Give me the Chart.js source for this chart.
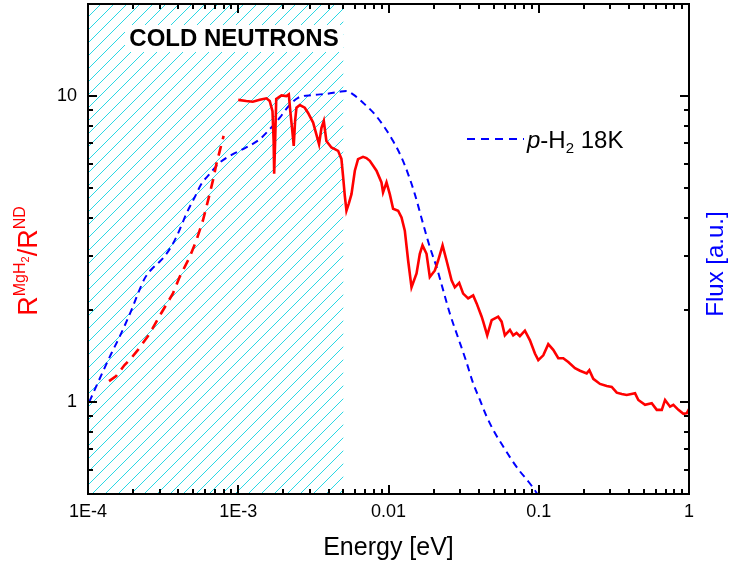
<!DOCTYPE html>
<html>
<head>
<meta charset="utf-8">
<script src="https://cdn.jsdelivr.net/npm/chart.js@4.4.0/dist/chart.umd.min.js"></script>
<style>
  html, body { margin: 0; padding: 0; background: #fff; }
  #wrap { width: 729px; height: 572px; }
</style>
</head>
<body>
<div id="wrap"><canvas id="myChart" width="729" height="572"></canvas></div>
<script>
// R(MgH2)/R(ND) measured, energies in eV
var ratioE = [1.00e-3, 1.13e-3, 1.25e-3, 1.39e-3, 1.54e-3, 1.62e-3, 1.69e-3, 1.72e-3, 1.734e-3, 1.76e-3,
  1.79e-3, 1.94e-3, 2.09e-3, 2.17e-3, 2.22e-3, 2.29e-3, 2.34e-3, 2.39e-3, 2.44e-3, 2.57e-3,
  2.77e-3, 2.91e-3, 3.15e-3, 3.31e-3, 3.45e-3, 3.58e-3, 3.71e-3, 3.86e-3, 4.17e-3, 4.39e-3,
  4.62e-3, 4.86e-3, 4.98e-3, 5.12e-3, 5.25e-3, 5.44e-3, 5.67e-3, 5.97e-3, 6.27e-3, 6.77e-3,
  7.13e-3, 7.51e-3, 8.32e-3, 8.98e-3, 9.20e-3, 9.70e-3, 1.02e-2, 1.073e-2, 1.159e-2, 1.221e-2,
  1.284e-2, 1.351e-2, 1.423e-2, 1.537e-2, 1.616e-2, 1.684e-2, 1.791e-2, 1.884e-2, 2.035e-2, 2.14e-2,
  2.29e-2, 2.434e-2, 2.628e-2, 2.764e-2, 2.954e-2, 3.14e-2, 3.39e-2, 3.66e-2, 3.86e-2, 4.17e-2,
  4.27e-2, 4.54e-2, 4.86e-2, 5.37e-2, 5.66e-2, 5.95e-2, 6.43e-2, 6.76e-2, 7.12e-2, 7.49e-2,
  8.09e-2, 8.74e-2, 9.43e-2, 9.93e-2, 0.1072, 0.1157, 0.1249, 0.1349, 0.1456, 0.1572,
  0.1743, 0.1882, 0.2085, 0.2171, 0.2307, 0.2557, 0.2834, 0.306, 0.3304, 0.3567,
  0.385, 0.4375, 0.460, 0.510, 0.565, 0.610, 0.659, 0.693, 0.748, 0.787,
  0.850, 0.918, 0.967, 1.0];
var ratioV = [9.72, 9.63, 9.58, 9.72, 9.83, 9.63, 8.93, 7.13, 5.57, 7.13,
  9.78, 10.05, 10.0, 10.13, 8.93, 7.69, 6.87, 8.29, 9.16, 9.35,
  9.16, 8.82, 8.19, 7.50, 6.96, 7.88, 8.29, 7.13, 6.79, 6.71,
  6.62, 6.23, 5.49, 4.72, 4.22, 4.45, 4.78, 5.70, 6.22, 6.33,
  6.27, 6.14, 5.70, 5.22, 4.84, 5.22, 4.78, 4.28, 4.22, 4.01,
  3.63, 2.90, 2.37, 2.63, 3.05, 3.25, 3.05, 2.56, 2.69, 2.90,
  3.25, 2.90, 2.50, 2.37, 2.45, 2.26, 2.18, 2.23, 2.10, 1.90,
  1.83, 1.65, 1.85, 1.90, 1.83, 1.65, 1.72, 1.65, 1.68, 1.64,
  1.71, 1.59, 1.44, 1.37, 1.42, 1.545, 1.48, 1.39, 1.39, 1.35,
  1.29, 1.265, 1.24, 1.27, 1.19, 1.145, 1.127, 1.12, 1.072, 1.062,
  1.054, 1.067, 1.015, 0.978, 0.99, 0.942, 0.942, 1.015, 0.965, 0.978,
  0.942, 0.914, 0.919, 0.947];

// low energy part (dashed red)
var ratioLowE = [1.38e-4, 1.54e-4, 1.75e-4, 1.89e-4, 2.15e-4, 2.57e-4, 3.07e-4, 3.67e-4, 4.07e-4,
  4.74e-4, 5.26e-4, 5.82e-4, 6.29e-4, 6.78e-4, 7.15e-4, 7.99e-4];
var ratioLowV = [1.17, 1.215, 1.32, 1.37, 1.48, 1.67, 1.95, 2.26, 2.56,
  2.97, 3.37, 3.92, 4.55, 5.29, 5.99, 7.41];

// p-H2 18K flux spectrum
var fluxE = [1.02e-4, 1.13e-4, 1.255e-4, 1.43e-4, 1.62e-4, 1.94e-4, 2.15e-4, 2.38e-4, 2.64e-4, 2.92e-4,
  3.23e-4, 3.67e-4, 4.07e-4, 4.51e-4, 5.12e-4, 5.68e-4, 6.45e-4, 7.52e-4, 9.22e-4, 1.13e-3,
  1.39e-3, 1.62e-3, 1.89e-3, 2.14e-3, 2.50e-3, 3.15e-3, 3.86e-3, 4.74e-3, 5.25e-3, 5.81e-3,
  6.77e-3, 8.10e-3, 9.45e-3, 1.073e-2, 1.221e-2, 1.351e-2, 1.497e-2, 1.70e-2, 1.884e-2, 2.089e-2,
  2.311e-2, 2.561e-2, 2.895e-2, 3.27e-2, 3.66e-2, 4.06e-2, 4.50e-2, 5.11e-2, 5.80e-2, 6.60e-2,
  7.49e-2, 8.51e-2, 9.68e-2, 0.1];
var fluxV = [1.0, 1.12, 1.255, 1.44, 1.63, 1.99, 2.26, 2.53, 2.71, 2.84,
  2.99, 3.29, 3.65, 4.12, 4.66, 5.16, 5.56, 6.06, 6.46, 6.79,
  7.23, 7.79, 8.50, 9.21, 9.87, 10.08, 10.17, 10.33, 10.38, 10.13,
  9.51, 8.72, 7.88, 7.13, 6.30, 5.56, 4.78, 3.82, 3.21, 2.76,
  2.32, 1.945, 1.63, 1.37, 1.15, 1.015, 0.896, 0.791, 0.715, 0.647,
  0.593, 0.55, 0.504, 0.49];

var xTickValues = [1e-4, 1e-3, 1e-2, 1e-1, 1];
var xTickLabels = ['1E-4', '1E-3', '0.01', '0.1', '1'];
var yTickValues = [1, 10];
var yTickLabels = ['1', '10'];
var coldRange = [1e-4, 5e-3];

var FONT = "'Liberation Sans', Arial, sans-serif";
Chart.defaults.font.family = FONT;
Chart.defaults.color = '#000';

function pts(xs, ys) {
  return xs.map(function (x, i) { return { x: x, y: ys[i] }; });
}

function drawRun(ctx, parts, x, y) {
  // parts: [text, fontSize, dy, italic]
  parts.forEach(function (p) {
    ctx.font = (p[3] ? 'italic ' : '') + p[1] + 'px ' + FONT;
    ctx.fillText(p[0], x, y + p[2]);
    x += ctx.measureText(p[0]).width;
  });
}
function runWidth(ctx, parts) {
  var w = 0;
  parts.forEach(function (p) {
    ctx.font = (p[3] ? 'italic ' : '') + p[1] + 'px ' + FONT;
    w += ctx.measureText(p[0]).width;
  });
  return w;
}

var decor = {
  id: 'decor',
  beforeDatasetsDraw: function (chart) {
    var ctx = chart.ctx, a = chart.chartArea, xs = chart.scales.x;
    var x0 = xs.getPixelForValue(coldRange[0]), x1 = xs.getPixelForValue(coldRange[1]);
    var h = a.bottom - a.top;
    ctx.save();
    ctx.beginPath();
    ctx.rect(x0, a.top, x1 - x0, h);
    ctx.clip();
    ctx.strokeStyle = '#2ad8e4';
    ctx.lineWidth = 1;
    ctx.beginPath();
    for (var s = -h; s < x1 - x0 + 13; s += 13) {
      ctx.moveTo(x0 + s, a.bottom);
      ctx.lineTo(x0 + s + h, a.top);
    }
    ctx.stroke();
    ctx.fillStyle = '#fff';
    ctx.fillRect(125, 25, 218, 27);
    ctx.restore();
  },
  afterDraw: function (chart) {
    var ctx = chart.ctx, a = chart.chartArea, xs = chart.scales.x, ys = chart.scales.y;
    ctx.save();
    ctx.strokeStyle = '#000';
    ctx.lineWidth = 2;
    ctx.strokeRect(a.left, a.top, a.right - a.left, a.bottom - a.top);
    ctx.beginPath();
    var p, k, v, px, len;
    for (p = -4; p <= 0; p++) {
      for (k = 1; k <= 9; k++) {
        v = k * Math.pow(10, p);
        if (v > 1.0001) break;
        px = Math.round(xs.getPixelForValue(v));
        len = k === 1 ? 9 : 5;
        ctx.moveTo(px, a.bottom); ctx.lineTo(px, a.bottom - len);
        ctx.moveTo(px, a.top); ctx.lineTo(px, a.top + len);
      }
    }
    for (p = -1; p <= 1; p++) {
      for (k = 1; k <= 9; k++) {
        v = k * Math.pow(10, p);
        if (v < 0.4999 || v > 20.001) continue;
        px = Math.round(ys.getPixelForValue(v));
        len = k === 1 ? 9 : 5;
        ctx.moveTo(a.left, px); ctx.lineTo(a.left + len, px);
        ctx.moveTo(a.right, px); ctx.lineTo(a.right - len, px);
      }
    }
    ctx.stroke();

    // cold neutrons label
    ctx.fillStyle = '#000';
    ctx.font = 'bold 24px ' + FONT;
    ctx.textAlign = 'center';
    ctx.textBaseline = 'middle';
    ctx.fillText('COLD NEUTRONS', 234, 39);

    // legend
    ctx.strokeStyle = '#0000ff';
    ctx.setLineDash([8, 6]);
    ctx.beginPath();
    ctx.moveTo(467, 139); ctx.lineTo(524, 139);
    ctx.stroke();
    ctx.setLineDash([]);
    ctx.textAlign = 'left';
    ctx.textBaseline = 'alphabetic';
    drawRun(ctx, [['p', 24, 0, true], ['-H', 24, 0], ['2', 15, 5], [' 18K', 24, 0]], 527, 148);

    // left axis title
    var lt = [['R', 27, 0], ['MgH', 16, -12], ['2', 11, -8], ['/R', 27, 0], ['ND', 16, -12]];
    ctx.save();
    ctx.translate(37, 261);
    ctx.rotate(-Math.PI / 2);
    ctx.fillStyle = '#ff0000';
    drawRun(ctx, lt, -runWidth(ctx, lt) / 2, 0);
    ctx.restore();

    // right axis title
    ctx.save();
    ctx.translate(716, 264);
    ctx.rotate(-Math.PI / 2);
    ctx.fillStyle = '#0000ff';
    ctx.font = '24px ' + FONT;
    ctx.textAlign = 'center';
    ctx.textBaseline = 'middle';
    ctx.fillText('Flux [a.u.]', 0, 0);
    ctx.restore();
    ctx.restore();
  }
};

var ctx = document.getElementById('myChart').getContext('2d');
var chart = new Chart(ctx, {
  type: 'line',
  data: {
    datasets: [{
      label: 'MgH2/ND',
      data: pts(ratioE, ratioV),
      borderColor: '#ff0000',
      borderWidth: 2.6,
      yAxisID: 'y'
    }, {
      label: 'MgH2/ND low E',
      data: pts(ratioLowE, ratioLowV),
      borderColor: '#ff0000',
      borderWidth: 2.6,
      borderDash: [10, 7],
      yAxisID: 'y'
    }, {
      label: 'p-H2 18K',
      data: pts(fluxE, fluxV),
      borderColor: '#0000ff',
      borderWidth: 2,
      borderDash: [7, 5],
      cubicInterpolationMode: 'monotone',
      yAxisID: 'y2'
    }]
  },
  options: {
    responsive: false,
    animation: false,
    layout: { padding: { top: 4, left: 0, right: 0, bottom: 0 } },
    elements: { point: { radius: 0 }, line: { tension: 0 } },
    plugins: { legend: { display: false }, tooltip: { enabled: false } },
    scales: {
      x: {
        type: 'logarithmic', min: 1e-4, max: 1, position: 'bottom',
        grid: { display: false, drawTicks: false },
        border: { display: false },
        afterBuildTicks: function (s) { s.ticks = xTickValues.map(function (v) { return { value: v }; }); },
        afterFit: function (s) { s.height = 78; s.paddingLeft = 0; s.paddingRight = 0; },
        ticks: {
          autoSkip: false, maxRotation: 0, padding: 7, color: '#000', font: { size: 18 },
          callback: function (v, i) { return xTickLabels[i]; }
        },
        title: { display: true, text: 'Energy [eV]', color: '#000', font: { size: 25 }, padding: { top: 0, bottom: 9 } }
      },
      y: {
        type: 'logarithmic', min: 0.5, max: 20, position: 'left',
        grid: { display: false, drawTicks: false },
        border: { display: false },
        afterBuildTicks: function (s) { s.ticks = yTickValues.map(function (v) { return { value: v }; }); },
        afterFit: function (s) { s.width = 88; s.paddingTop = 0; s.paddingBottom = 0; },
        ticks: {
          padding: 11, color: '#000', font: { size: 18 },
          callback: function (v, i) { return yTickLabels[i]; }
        }
      },
      y2: {
        type: 'logarithmic', min: 0.5, max: 20, position: 'right',
        grid: { display: false, drawTicks: false },
        border: { display: false },
        ticks: { display: false },
        afterFit: function (s) { s.width = 40; s.paddingTop = 0; s.paddingBottom = 0; }
      }
    }
  },
  plugins: [decor]
});
</script>
</body>
</html>
